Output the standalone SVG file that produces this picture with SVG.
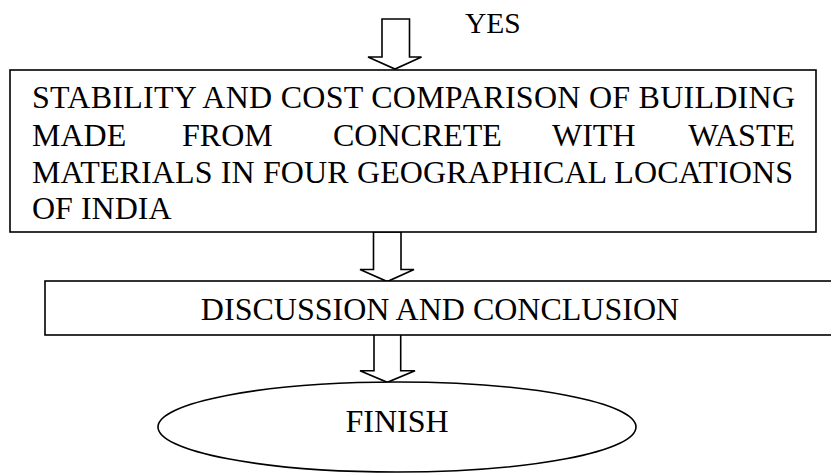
<svg xmlns="http://www.w3.org/2000/svg" width="831" height="473" viewBox="0 0 831 473">
<style>
.s{fill:#fff;stroke:#000;stroke-width:1.6}
.t{font-family:"Liberation Serif","Times New Roman",serif;font-size:32px;fill:#000}
</style>
<rect width="831" height="473" fill="#fff"/>
<g id="connectors">
<path class="s" d="M382 19 H409.5 V57 H421.5 L395 69 L368 57 H382 Z"/>
<path class="s" d="M373.5 232 H401 V269.5 H414 L387.3 281.5 L360 269.5 H373.5 Z"/>
<path class="s" d="M374 334 H400.7 V370.7 H415 L387.3 382.3 L360 370.7 H374 Z"/>
<text class="t" x="465" y="33" style="font-size:29.5px">YES</text>
</g>
<g id="node-stability">
<rect class="s" x="10" y="70" width="806" height="162"/>
<text class="t" x="32" y="108" textLength="763" lengthAdjust="spacing">STABILITY AND COST COMPARISON OF BUILDING</text>
<text class="t" x="32" y="146">MADE</text>
<text class="t" x="182" y="146">FROM</text>
<text class="t" x="333" y="146">CONCRETE</text>
<text class="t" x="552" y="146">WITH</text>
<text class="t" x="795" y="146" text-anchor="end">WASTE</text>
<text class="t" x="32" y="183" textLength="761" lengthAdjust="spacing">MATERIALS IN FOUR GEOGRAPHICAL LOCATIONS</text>
<text class="t" x="32" y="219">OF INDIA</text>
</g>
<g id="node-discussion">
<rect class="s" x="45" y="281" width="800" height="54"/>
<text class="t" x="440" y="320" text-anchor="middle">DISCUSSION AND CONCLUSION</text>
</g>
<g id="node-finish">
<ellipse class="s" cx="397" cy="427" rx="239" ry="45"/>
<text class="t" x="397" y="432" text-anchor="middle">FINISH</text>
</g>
</svg>
